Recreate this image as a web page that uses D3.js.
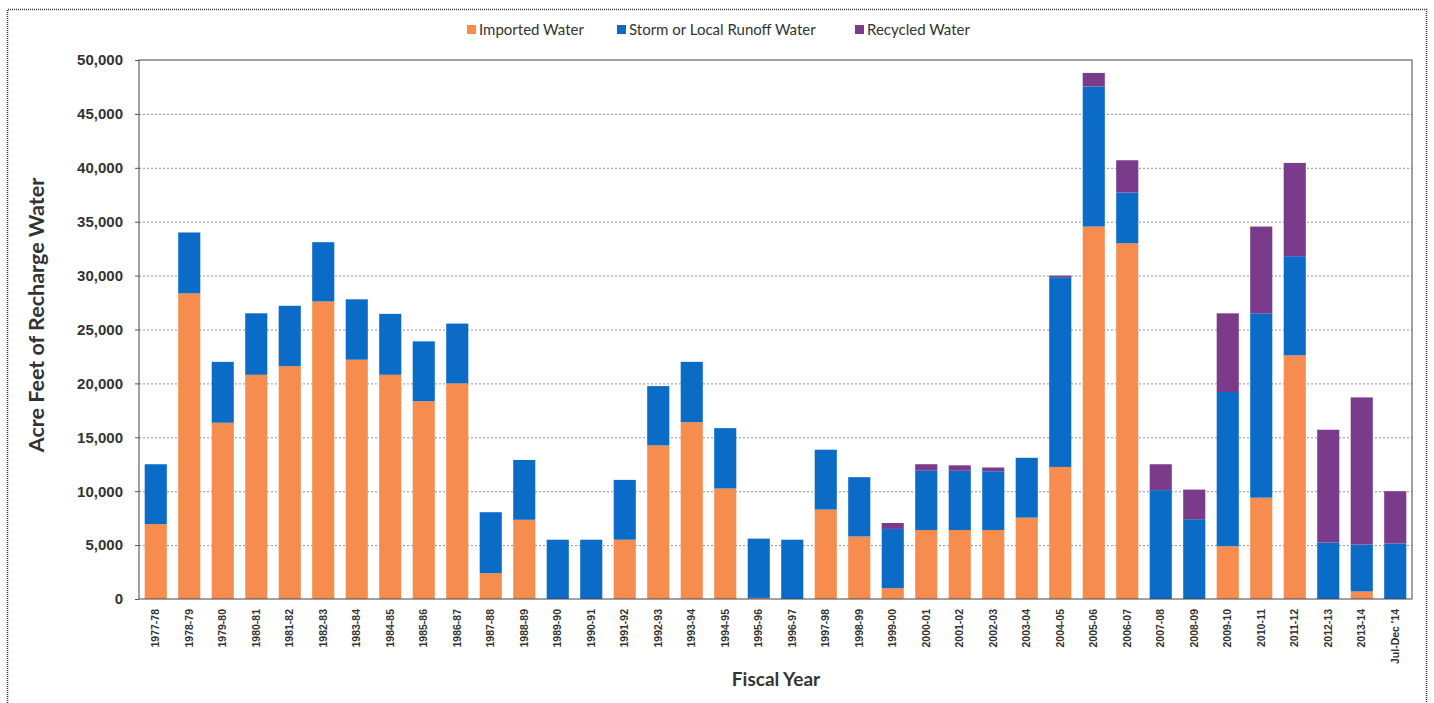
<!DOCTYPE html>
<html>
<head>
<meta charset="utf-8">
<script src="https://cdn.jsdelivr.net/npm/d3@7"></script>
<style>
  body { margin: 0; background: #fff; }
  svg { display: block; font-family: Lato, "Open Sans", sans-serif; }
  .grid line { stroke: #8a90ac; stroke-dasharray: 2,2; stroke-width: 1; }
  .grid path { display: none; }
</style>
</head>
<body>
<div id="chart"></div>
<script>
// fiscal years on the x axis
var years = ["1977-78", "1978-79", "1979-80", "1980-81", "1981-82", "1982-83", "1983-84",
  "1984-85", "1985-86", "1986-87", "1987-88", "1988-89", "1989-90", "1990-91", "1991-92",
  "1992-93", "1993-94", "1994-95", "1995-96", "1996-97", "1997-98", "1998-99", "1999-00",
  "2000-01", "2001-02", "2002-03", "2003-04", "2004-05", "2005-06", "2006-07", "2007-08",
  "2008-09", "2009-10", "2010-11", "2011-12", "2012-13", "2013-14", "Jul-Dec '14"];

// acre feet by source
var imported = [6950, 28350, 16350, 20800, 21600, 27600, 22200, 20800, 18350, 20000,
  2400, 7350, 0, 0, 5500, 14250, 16400, 10250, 100, 0, 8300, 5800, 1000, 6400, 6400,
  6400, 7550, 12250, 34550, 33000, 0, 0, 4900, 9400, 22600, 0, 700, 0];
var storm = [5550, 5650, 5650, 5700, 5600, 5500, 5600, 5650, 5550, 5550,
  5650, 5550, 5500, 5500, 5550, 5500, 5600, 5600, 5500, 5500, 5550, 5500, 5500, 5500, 5500,
  5450, 5550, 17600, 13000, 4700, 10100, 7400, 14300, 17100, 9200, 5250, 4350, 5150];
var recycled = [0, 0, 0, 0, 0, 0, 0, 0, 0, 0,
  0, 0, 0, 0, 0, 0, 0, 0, 0, 0, 0, 0, 550, 600, 500, 350, 0, 150, 1250, 3000, 2400, 2750,
  7300, 8050, 8650, 10450, 13650, 4850];

var yTicks = [0, 5000, 10000, 15000, 20000, 25000, 30000, 35000, 40000, 45000, 50000];

var keys = ["imported", "storm", "recycled"];
var labels = ["Imported Water", "Storm or Local Runoff Water", "Recycled Water"];
var colors = ["#f68d4f", "#0a6cc6", "#7a3b8a"];

var rows = years.map(function(y, i) {
  return { year: y, imported: imported[i], storm: storm[i], recycled: recycled[i] };
});

var W = 1434, H = 703;
var margin = { top: 60, right: 22, bottom: 104, left: 139 };
var width = W - margin.left - margin.right,
  height = H - margin.top - margin.bottom;

var svg = d3.select("#chart").append("svg")
  .attr("width", W)
  .attr("height", H);

// outer frame (scan shows it open at the bottom)
svg.append("path")
  .attr("d", "M7.5,703 V9.5 H1426.5 V703")
  .attr("fill", "none")
  .attr("stroke", "#333")
  .attr("stroke-width", 1.5)
  .attr("stroke-dasharray", "1,1");

var g = svg.append("g")
  .attr("transform", "translate(" + margin.left + "," + margin.top + ")");

var x = d3.scaleBand().domain(years).range([0, width]).paddingInner(0.34).paddingOuter(0.17);
var y = d3.scaleLinear().domain([0, 50000]).range([height, 0]);

// gridlines
g.append("g")
  .attr("class", "grid")
  .call(d3.axisLeft(y).tickValues(yTicks.slice(1, -1)).tickSize(-width).tickFormat(""));

var series = d3.stack().keys(keys)(rows);

g.selectAll(".layer")
  .data(series)
  .enter().append("g")
  .attr("class", "layer")
  .attr("fill", function(d, i) { return colors[i]; })
  .selectAll("rect")
  .data(function(d) { return d; })
  .enter().append("rect")
  .attr("x", function(d) { return x(d.data.year); })
  .attr("y", function(d) { return y(d[1]); })
  .attr("width", x.bandwidth())
  .attr("height", function(d) { return y(d[0]) - y(d[1]); });

// plot frame
g.append("rect")
  .attr("width", width)
  .attr("height", height)
  .attr("fill", "none")
  .attr("stroke", "#444")
  .attr("stroke-width", 1);

// y axis
var yAxis = g.append("g")
  .call(d3.axisLeft(y).tickValues(yTicks).tickSize(4).tickPadding(12).tickFormat(d3.format(",")));
yAxis.select(".domain").remove();
yAxis.selectAll("line").attr("stroke", "#555");
yAxis.selectAll("text")
  .attr("font-size", 15)
  .attr("font-weight", "bold")
  .attr("fill", "#333");

// x axis
var xAxis = g.append("g")
  .attr("transform", "translate(0," + height + ")")
  .call(d3.axisBottom(x).tickSize(0).tickPadding(0));
xAxis.select(".domain").remove();
xAxis.selectAll("text")
  .attr("transform", "rotate(-90)")
  .attr("text-anchor", "end")
  .attr("dy", "0.35em")
  .attr("x", -10)
  .attr("y", 0)
  .attr("font-size", 10.5)
  .attr("font-weight", "bold")
  .attr("fill", "#333");

// axis titles
svg.append("text")
  .attr("transform", "translate(44,315) rotate(-90)")
  .attr("text-anchor", "middle")
  .attr("font-size", 21.5)
  .attr("font-weight", "bold")
  .attr("fill", "#333")
  .text("Acre Feet of Recharge Water");

svg.append("text")
  .attr("x", 776)
  .attr("y", 686)
  .attr("text-anchor", "middle")
  .attr("font-size", 19)
  .attr("font-weight", "bold")
  .attr("fill", "#333")
  .text("Fiscal Year");

// legend
var legendX = [467, 617, 855];
var legend = svg.append("g").attr("transform", "translate(0,30)");
labels.forEach(function(l, i) {
  legend.append("rect")
    .attr("x", legendX[i])
    .attr("y", -5)
    .attr("width", 9)
    .attr("height", 9)
    .attr("fill", colors[i]);
  legend.append("text")
    .attr("x", legendX[i] + 12)
    .attr("y", 0)
    .attr("dy", "0.35em")
    .attr("font-size", 15)
    .attr("fill", "#333")
    .text(l);
});
</script>
</body>
</html>
